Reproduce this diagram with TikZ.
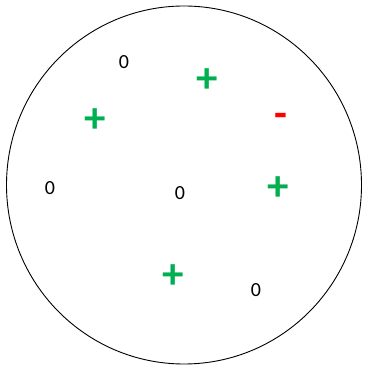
\documentclass[tikz,border=0pt]{standalone}
\usepackage{fontspec}
\setmainfont{Carlito}
\definecolor{pgreen}{HTML}{00B050}
\definecolor{pred}{HTML}{FF0000}
\begin{document}
\begin{tikzpicture}[x=1pt,y=1pt,
  zero/.style={inner sep=0pt,font=\fontsize{20}{20}\selectfont},
  plus/.style={inner sep=0pt,text=pgreen,font=\fontsize{43}{43}\selectfont\bfseries},
  minus/.style={inner sep=0pt,text=pred,font=\fontsize{42}{42}\selectfont\bfseries}]
\useasboundingbox (0,0) rectangle (365,366);
\draw[line width=0.9pt] (184,181) ellipse [x radius=177.5, y radius=179];
\node[zero] (z1) at (124,304) {0};
\node[zero] (z2) at (50,177.5) {0};
\node[zero] (z3) at (180,173) {0};
\node[zero] (z4) at (256,76) {0};
\node[plus] (p1) at (207.5,285) {+};
\node[plus] (p2) at (95.5,245) {+};
\node[plus] (p3) at (278.5,177) {+};
\node[plus] (p4) at (173,89) {+};
\node[minus] (m1) at (280.5,246) {-};
\end{tikzpicture}
\end{document}
